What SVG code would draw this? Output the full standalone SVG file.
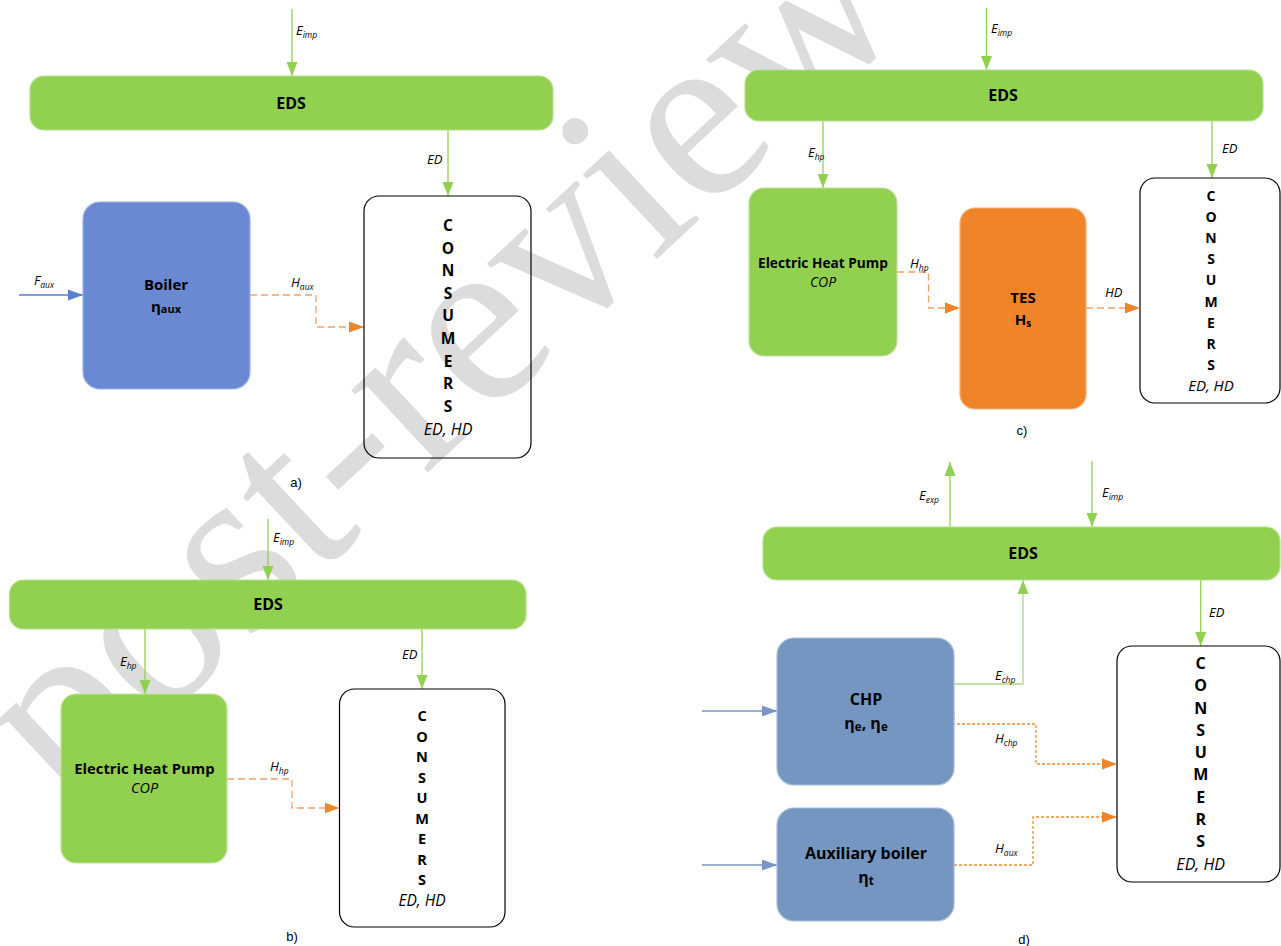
<svg xmlns="http://www.w3.org/2000/svg" width="1281" height="946" viewBox="0 0 1281 946">
<style>
.bg{fill:#ffffff}
.wm{font-family:"Liberation Serif","Times New Roman",serif;font-size:245px;fill:#dcdcdc}
.eds{fill:#92D050;stroke:#b4e08c;stroke-width:1.2}
.grn{fill:#92D050;stroke:#c3df9f;stroke-width:1.2}
.blu{fill:#6A89D2;stroke:#9cb2e6;stroke-width:1.2}
.stl{fill:#7596C1;stroke:#a5bddb;stroke-width:1.2}
.org{fill:#F08428;stroke:#f6b07a;stroke-width:1.2}
.cons{fill:none;stroke:#000;stroke-width:1.2}
.t{font-family:"Open Sans","Noto Sans",sans-serif;fill:#000;text-anchor:middle}
.b{font-weight:bold}
.i{font-style:italic}
.lbl{font-family:"Open Sans","Noto Sans",sans-serif;font-style:italic;font-size:13px;fill:#000}
.sub{font-size:8.5px}
.cap{font-family:"Liberation Sans",Arial,sans-serif;font-size:13px;fill:#000;text-anchor:middle}
.g{fill:none;stroke:#92D050;stroke-width:1.3}
.g2{fill:none;stroke:#a9d98a;stroke-width:1.3}
.o{fill:none;stroke:#F5A065;stroke-width:1.3;stroke-dasharray:7 4}
.od{fill:none;stroke:#F08A30;stroke-width:1.3;stroke-dasharray:3 2}
.bl{fill:none;stroke:#5B7FD0;stroke-width:1.3}
.bl2{fill:none;stroke:#7796C2;stroke-width:1.3}
</style>
<defs>
<marker id="ag" markerUnits="userSpaceOnUse" markerWidth="15" markerHeight="12" refX="14" refY="6" orient="auto"><path d="M0,0.5 L14,6 L0,11.5 z" fill="#92D050"/></marker>
<marker id="ao" markerUnits="userSpaceOnUse" markerWidth="16" markerHeight="12" refX="15" refY="6" orient="auto"><path d="M0,0.5 L15,6 L0,11.5 z" fill="#F08428"/></marker>
<marker id="ab" markerUnits="userSpaceOnUse" markerWidth="16" markerHeight="12" refX="15" refY="6" orient="auto"><path d="M0,0.5 L15,6 L0,11.5 z" fill="#5B7FD0"/></marker>
<marker id="ab2" markerUnits="userSpaceOnUse" markerWidth="16" markerHeight="12" refX="15" refY="6" orient="auto"><path d="M0,0.5 L15,6 L0,11.5 z" fill="#7796C2"/></marker>
</defs>
<rect class="bg" x="0" y="0" width="1281" height="946"/>
<text class="wm" x="66" y="810" transform="rotate(-43 66 810)">post-review</text>

<g id="connectors">
<!-- a -->
<path class="g" d="M292,9 V76" marker-end="url(#ag)"/>
<path class="g" d="M448,130 V196" marker-end="url(#ag)"/>
<path class="bl" d="M19,295 H83" marker-end="url(#ab)"/>
<path class="o" d="M250,295 H316 V327 H364" marker-end="url(#ao)"/>
<!-- c -->
<path class="g" d="M986.5,8 V70" marker-end="url(#ag)"/>
<path class="g" d="M823,121 V188" marker-end="url(#ag)"/>
<path class="g" d="M1212,121 V178" marker-end="url(#ag)"/>
<path class="o" d="M897,272 H928.5 V308 H960" marker-end="url(#ao)"/>
<path class="o" d="M1086,308 H1140" marker-end="url(#ao)"/>
<!-- b -->
<path class="g" d="M268,519 V580" marker-end="url(#ag)"/>
<path class="g" d="M145,629 V694" marker-end="url(#ag)"/>
<path class="g" d="M422,629 V689" marker-end="url(#ag)"/>
<path class="o" d="M227,779 H292 V808 H339.5" marker-end="url(#ao)"/>
<!-- d -->
<path class="g" d="M950,527 V462" marker-end="url(#ag)"/>
<path class="g" d="M1092,461 V527" marker-end="url(#ag)"/>
<path class="g" d="M1200.7,580 V646" marker-end="url(#ag)"/>
<path class="g2" d="M954,684 H1023 V580" marker-end="url(#ag)"/>
<path class="od" d="M954,712 V724 H1036 V764 H1117" marker-end="url(#ao)"/>
<path class="od" d="M954,865 H1033 V817 H1117" marker-end="url(#ao)"/>
<path class="bl2" d="M702,711 H777" marker-end="url(#ab2)"/>
<path class="bl2" d="M702,865 H777" marker-end="url(#ab2)"/>
</g>

<g id="labels">
<text class="lbl" x="296" y="35">E<tspan class="sub" dy="2.5">imp</tspan></text>
<text class="lbl" x="427" y="164">ED</text>
<text class="lbl" x="34" y="285">F<tspan class="sub" dy="2.5">aux</tspan></text>
<text class="lbl" x="291" y="287">H<tspan class="sub" dy="2.5">aux</tspan></text>
<text class="lbl" x="991" y="33">E<tspan class="sub" dy="2.5">imp</tspan></text>
<text class="lbl" x="808" y="157">E<tspan class="sub" dy="2.5">hp</tspan></text>
<text class="lbl" x="1222" y="153">ED</text>
<text class="lbl" x="910" y="268">H<tspan class="sub" dy="2.5">hp</tspan></text>
<text class="lbl" x="1105" y="297">HD</text>
<text class="lbl" x="273" y="542">E<tspan class="sub" dy="2.5">imp</tspan></text>
<text class="lbl" x="120" y="666">E<tspan class="sub" dy="2.5">hp</tspan></text>
<text class="lbl" x="402" y="659">ED</text>
<text class="lbl" x="270" y="771">H<tspan class="sub" dy="2.5">hp</tspan></text>
<text class="lbl" x="919" y="500">E<tspan class="sub" dy="2.5">exp</tspan></text>
<text class="lbl" x="1102" y="497">E<tspan class="sub" dy="2.5">imp</tspan></text>
<text class="lbl" x="1209" y="617">ED</text>
<text class="lbl" x="995" y="680">E<tspan class="sub" dy="2.5">chp</tspan></text>
<text class="lbl" x="995" y="743">H<tspan class="sub" dy="2.5">chp</tspan></text>
<text class="lbl" x="995" y="853">H<tspan class="sub" dy="2.5">aux</tspan></text>
<text class="cap" x="296" y="487">a)</text>
<text class="cap" x="1022" y="435">c)</text>
<text class="cap" x="292" y="941">b)</text>
<text class="cap" x="1024" y="944">d)</text>
</g>

<!-- Panel a -->
<g id="a-eds"><rect class="eds" x="30" y="76" width="523" height="54" rx="14"/><text class="t b" x="291" y="109" font-size="16">EDS</text></g>
<g id="a-boiler"><rect class="blu" x="83" y="202" width="167" height="187" rx="17"/>
<text class="t b" x="166" y="290" font-size="15">Boiler</text>
<text class="t b" x="166" y="312" font-size="15">η<tspan font-size="11" dy="1">aux</tspan></text></g>
<g id="a-consumers"><rect class="cons" x="364" y="196" width="167" height="262" rx="15"/>
<text class="t b" font-size="15.5"><tspan x="448" y="231">C</tspan><tspan x="448" y="253.6">O</tspan><tspan x="448" y="276.2">N</tspan><tspan x="448" y="298.8">S</tspan><tspan x="448" y="321.4">U</tspan><tspan x="448" y="344">M</tspan><tspan x="448" y="366.6">E</tspan><tspan x="448" y="389.2">R</tspan><tspan x="448" y="411.8">S</tspan></text>
<text class="t i" x="448" y="435" font-size="16">ED, HD</text></g>

<!-- Panel c -->
<g id="c-eds"><rect class="eds" x="745" y="70" width="518" height="51" rx="14"/><text class="t b" x="1003" y="101" font-size="16">EDS</text></g>
<g id="c-ehp"><rect class="grn" x="749" y="188" width="148" height="168" rx="15"/>
<text class="t b" x="823" y="268" font-size="13.7">Electric Heat Pump</text>
<text class="t i" x="823" y="287" font-size="14">COP</text></g>
<g id="c-tes"><rect class="org" x="960" y="208" width="126" height="201" rx="15"/>
<text class="t b" x="1023" y="303" font-size="15">TES</text>
<text class="t b" x="1023" y="325" font-size="15">H<tspan font-size="10" dy="2">s</tspan></text></g>
<g id="c-consumers"><rect class="cons" x="1140" y="178" width="140" height="225" rx="15"/>
<text class="t b" font-size="14"><tspan x="1211" y="201">C</tspan><tspan x="1211" y="222.1">O</tspan><tspan x="1211" y="243.2">N</tspan><tspan x="1211" y="264.3">S</tspan><tspan x="1211" y="285.4">U</tspan><tspan x="1211" y="306.5">M</tspan><tspan x="1211" y="327.6">E</tspan><tspan x="1211" y="348.7">R</tspan><tspan x="1211" y="369.8">S</tspan></text>
<text class="t i" x="1211" y="391" font-size="15">ED, HD</text></g>

<!-- Panel b -->
<g id="b-eds"><rect class="eds" x="9.5" y="580" width="516.5" height="49" rx="14"/><text class="t b" x="268" y="610" font-size="16">EDS</text></g>
<g id="b-ehp"><rect class="grn" x="61" y="694" width="166" height="169" rx="15"/>
<text class="t b" x="144.5" y="774" font-size="14.8">Electric Heat Pump</text>
<text class="t i" x="144.5" y="793" font-size="14.5">COP</text></g>
<g id="b-consumers"><rect class="cons" x="339.5" y="689" width="165.5" height="238" rx="15"/>
<text class="t b" font-size="14.5"><tspan x="422" y="721">C</tspan><tspan x="422" y="741.5">O</tspan><tspan x="422" y="762">N</tspan><tspan x="422" y="782.5">S</tspan><tspan x="422" y="803">U</tspan><tspan x="422" y="823.5">M</tspan><tspan x="422" y="844">E</tspan><tspan x="422" y="864.5">R</tspan><tspan x="422" y="885">S</tspan></text>
<text class="t i" x="422" y="906" font-size="15.5">ED, HD</text></g>

<!-- Panel d -->
<g id="d-eds"><rect class="eds" x="763" y="527" width="517" height="53" rx="14"/><text class="t b" x="1023" y="559" font-size="16">EDS</text></g>
<g id="d-chp"><rect class="stl" x="777" y="638" width="177" height="147" rx="17"/>
<text class="t b" x="866" y="705" font-size="16">CHP</text>
<text class="t b" x="866" y="729" font-size="16">η<tspan font-size="11.5" dy="2">e</tspan><tspan dy="-2">, η</tspan><tspan font-size="11.5" dy="2">e</tspan></text></g>
<g id="d-aux"><rect class="stl" x="777" y="808" width="177" height="113" rx="17"/>
<text class="t b" x="866" y="859" font-size="16">Auxiliary boiler</text>
<text class="t b" x="866" y="883" font-size="16">η<tspan font-size="11.5" dy="2">t</tspan></text></g>
<g id="d-consumers"><rect class="cons" x="1117" y="646" width="163" height="236" rx="15"/>
<text class="t b" font-size="16"><tspan x="1200.7" y="669">C</tspan><tspan x="1200.7" y="691.25">O</tspan><tspan x="1200.7" y="713.5">N</tspan><tspan x="1200.7" y="735.75">S</tspan><tspan x="1200.7" y="758">U</tspan><tspan x="1200.7" y="780.25">M</tspan><tspan x="1200.7" y="802.5">E</tspan><tspan x="1200.7" y="824.75">R</tspan><tspan x="1200.7" y="847">S</tspan></text>
<text class="t i" x="1200.7" y="870" font-size="16">ED, HD</text></g>
</svg>
